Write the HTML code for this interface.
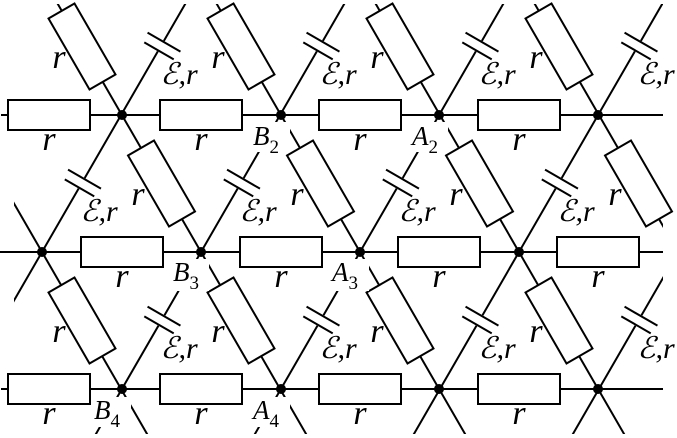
<!DOCTYPE html>
<html><head><meta charset="utf-8"><style>
html,body{margin:0;padding:0;background:#fff;overflow:hidden;width:677px;height:438px;}
svg{display:block;}
text{font-family:"Liberation Serif","DejaVu Serif",serif;font-style:italic;fill:#000;}
</style></head><body>
<svg width="677" height="438" viewBox="0 0 677 438" xmlns="http://www.w3.org/2000/svg" overflow="hidden">
<defs>
<clipPath id="c"><rect x="0" y="4" width="663" height="430"/></clipPath>
<clipPath id="d"><rect x="14" y="4" width="649" height="430"/></clipPath>
<g id="res"><rect x="-41" y="-15" width="82" height="30" fill="#fff" stroke="#000" stroke-width="2"/></g>
<g id="bat"><rect x="-6" y="-22" width="12" height="44" fill="#fff"/>
<line x1="-5" y1="-17" x2="-5" y2="17" stroke="#000" stroke-width="2"/>
<line x1="5" y1="-19" x2="5" y2="19" stroke="#000" stroke-width="2"/></g>
</defs>
<g clip-path="url(#c)" stroke="#000" stroke-width="2">
<line x1="1" y1="115" x2="663" y2="115"/>
<line x1="0" y1="252" x2="663" y2="252"/>
<line x1="1" y1="389" x2="663" y2="389"/>
</g>
<g clip-path="url(#d)" stroke="#000" stroke-width="2">
<line x1="-417" y1="771.6" x2="183" y2="-267.6"/>
<line x1="-258" y1="771.6" x2="342" y2="-267.6"/>
<line x1="-99" y1="771.6" x2="501" y2="-267.6"/>
<line x1="60" y1="771.6" x2="660" y2="-267.6"/>
<line x1="219" y1="771.6" x2="819" y2="-267.6"/>
<line x1="378" y1="771.6" x2="978" y2="-267.6"/>
<line x1="537" y1="771.6" x2="1137" y2="-267.6"/>
<line x1="696" y1="771.6" x2="1296" y2="-267.6"/>
<line x1="-417" y1="-267.6" x2="183" y2="771.6"/>
<line x1="-258" y1="-267.6" x2="342" y2="771.6"/>
<line x1="-99" y1="-267.6" x2="501" y2="771.6"/>
<line x1="60" y1="-267.6" x2="660" y2="771.6"/>
<line x1="219" y1="-267.6" x2="819" y2="771.6"/>
<line x1="378" y1="-267.6" x2="978" y2="771.6"/>
<line x1="537" y1="-267.6" x2="1137" y2="771.6"/>
</g>
<rect x="0" y="0" width="34" height="48" fill="#fff"/>
<use href="#res" transform="translate(49,115)"/>
<use href="#res" transform="translate(201,115)"/>
<use href="#res" transform="translate(360,115)"/>
<use href="#res" transform="translate(519,115)"/>
<use href="#res" transform="translate(122,252)"/>
<use href="#res" transform="translate(281,252)"/>
<use href="#res" transform="translate(439,252)"/>
<use href="#res" transform="translate(598,252)"/>
<use href="#res" transform="translate(49,389)"/>
<use href="#res" transform="translate(201,389)"/>
<use href="#res" transform="translate(360,389)"/>
<use href="#res" transform="translate(519,389)"/>
<use href="#res" transform="translate(82,46.5) rotate(60)"/>
<use href="#res" transform="translate(241,46.5) rotate(60)"/>
<use href="#res" transform="translate(400,46.5) rotate(60)"/>
<use href="#res" transform="translate(559,46.5) rotate(60)"/>
<use href="#res" transform="translate(161.5,183.5) rotate(60)"/>
<use href="#res" transform="translate(320.5,183.5) rotate(60)"/>
<use href="#res" transform="translate(479.5,183.5) rotate(60)"/>
<use href="#res" transform="translate(638.5,183.5) rotate(60)"/>
<use href="#res" transform="translate(82,320.5) rotate(60)"/>
<use href="#res" transform="translate(241,320.5) rotate(60)"/>
<use href="#res" transform="translate(400,320.5) rotate(60)"/>
<use href="#res" transform="translate(559,320.5) rotate(60)"/>
<use href="#bat" transform="translate(161.5,46.5) rotate(-60)"/>
<use href="#bat" transform="translate(320.5,46.5) rotate(-60)"/>
<use href="#bat" transform="translate(479.5,46.5) rotate(-60)"/>
<use href="#bat" transform="translate(638.5,46.5) rotate(-60)"/>
<use href="#bat" transform="translate(82,183.5) rotate(-60)"/>
<use href="#bat" transform="translate(241,183.5) rotate(-60)"/>
<use href="#bat" transform="translate(400,183.5) rotate(-60)"/>
<use href="#bat" transform="translate(559,183.5) rotate(-60)"/>
<use href="#bat" transform="translate(161.5,320.5) rotate(-60)"/>
<use href="#bat" transform="translate(320.5,320.5) rotate(-60)"/>
<use href="#bat" transform="translate(479.5,320.5) rotate(-60)"/>
<use href="#bat" transform="translate(638.5,320.5) rotate(-60)"/>
<g fill="#000">
<circle cx="122" cy="115" r="5"/><circle cx="281" cy="115" r="5"/><circle cx="439" cy="115" r="5"/><circle cx="598" cy="115" r="5"/>
<circle cx="42" cy="252" r="5"/><circle cx="201" cy="252" r="5"/><circle cx="360" cy="252" r="5"/><circle cx="519" cy="252" r="5"/>
<circle cx="122" cy="389" r="5"/><circle cx="281" cy="389" r="5"/><circle cx="439" cy="389" r="5"/><circle cx="598" cy="389" r="5"/>
</g>
<g font-size="34" text-anchor="middle" font-style="italic">
<text x="49" y="150">r</text><text x="201" y="150">r</text><text x="360" y="150">r</text><text x="519" y="150">r</text>
<text x="122" y="287">r</text><text x="281" y="287">r</text><text x="439" y="287">r</text><text x="598" y="287">r</text>
<text x="49" y="424">r</text><text x="201" y="424">r</text><text x="360" y="424">r</text><text x="519" y="424">r</text>
<text x="59" y="68">r</text><text x="218" y="68">r</text><text x="377" y="68">r</text><text x="536" y="68">r</text>
<text x="138" y="205">r</text><text x="297" y="205">r</text><text x="456" y="205">r</text><text x="615" y="205">r</text>
<text x="59" y="342">r</text><text x="218" y="342">r</text><text x="377" y="342">r</text><text x="536" y="342">r</text>
</g>
<g font-size="30" text-anchor="middle" font-style="italic">
<text x="179" y="84">ℰ,r</text><text x="338" y="84">ℰ,r</text><text x="497" y="84">ℰ,r</text><text x="656" y="84">ℰ,r</text>
<text x="99" y="221">ℰ,r</text><text x="258" y="221">ℰ,r</text><text x="417" y="221">ℰ,r</text><text x="576" y="221">ℰ,r</text>
<text x="179" y="358">ℰ,r</text><text x="338" y="358">ℰ,r</text><text x="497" y="358">ℰ,r</text><text x="656" y="358">ℰ,r</text>
</g>
<g fill="#fff">
<rect x="254" y="122" width="36" height="30"/>
<rect x="412" y="122" width="36" height="30"/>
<rect x="173" y="259" width="36" height="32"/>
<rect x="333" y="259" width="36" height="32"/>
<rect x="95" y="397" width="36" height="30"/>
<rect x="254" y="397" width="36" height="30"/>
</g>
<g font-size="27" font-style="italic">
<text x="253" y="145">B<tspan font-size="19" font-style="normal" dy="8">2</tspan></text>
<text x="412" y="145">A<tspan font-size="19" font-style="normal" dy="8">2</tspan></text>
<text x="173" y="281">B<tspan font-size="19" font-style="normal" dy="8">3</tspan></text>
<text x="332" y="281">A<tspan font-size="19" font-style="normal" dy="8">3</tspan></text>
<text x="94" y="419">B<tspan font-size="19" font-style="normal" dy="8">4</tspan></text>
<text x="253" y="419">A<tspan font-size="19" font-style="normal" dy="8">4</tspan></text>
</g>
</svg>
</body></html>
